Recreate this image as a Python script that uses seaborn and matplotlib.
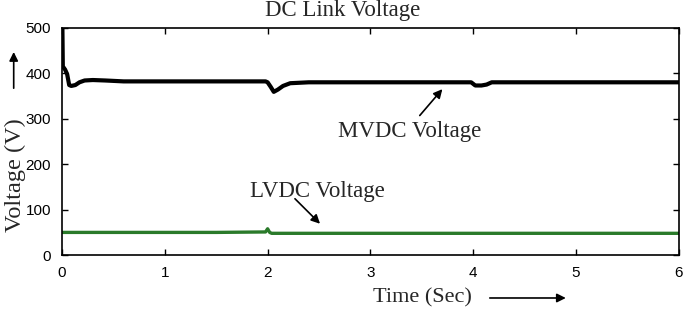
import matplotlib
matplotlib.use("Agg")
import matplotlib.pyplot as plt
import seaborn as sns
import pandas as pd

# ---- data ----
mv_time = [0.0, 0.004, 0.008, 0.03, 0.05, 0.07, 0.09, 0.13, 0.17, 0.22, 0.3, 0.42, 0.6,
           1.0, 1.5, 1.98, 2.0, 2.03, 2.06, 2.1, 2.15, 2.22, 2.4, 3.0, 3.5, 3.98,
           4.02, 4.08, 4.13, 4.18, 5.0, 6.0]
mv_volt = [500, 500, 415, 408, 398, 374, 372, 374, 380, 384, 385, 384, 382,
           382, 382, 382, 380, 370, 359, 364, 372, 378, 380, 380, 380, 380,
           373, 373, 375, 380, 380, 380]

lv_time = [0.0, 0.5, 1.0, 1.5, 1.98, 2.0, 2.02, 2.04, 3.0, 4.0, 5.0, 6.0]
lv_volt = [50, 50, 50, 50, 51, 58, 50, 48, 48, 48, 48, 48]

x_ticks = [0, 1, 2, 3, 4, 5, 6]
y_ticks = [0, 100, 200, 300, 400, 500]

mv = pd.DataFrame({"t": mv_time, "v": mv_volt})
lv = pd.DataFrame({"t": lv_time, "v": lv_volt})

sns.set_theme(style="ticks")
plt.rcParams["font.family"] = ["Liberation Sans", "DejaVu Sans"]

fig = plt.figure(figsize=(6.85, 3.15), dpi=100)
ax = fig.add_axes([0.0905, 0.19, 0.9005, 0.722])

sns.lineplot(data=mv, x="t", y="v", ax=ax, color="black", linewidth=3.0)
sns.lineplot(data=lv, x="t", y="v", ax=ax, color="#2a7a2a", linewidth=2.4)

ax.set_xlim(0, 6)
ax.set_ylim(0, 500)
ax.set_xticks(x_ticks)
ax.set_yticks(y_ticks)
ax.tick_params(direction="in", top=True, right=True, length=4, width=1,
               labelsize=11, colors="black", pad=8)
for s in ax.spines.values():
    s.set_color("black")
    s.set_linewidth(1.2)

serif = ["Liberation Serif", "DejaVu Serif"]
ax.set_xlabel("")
ax.set_ylabel("")
fig.text(0.5, 0.968, "DC Link Voltage", ha="center", va="center",
         family=serif, fontsize=16.5)
fig.text(0.022, 0.444, "Voltage (V)", rotation=90, ha="center", va="center",
         family=serif, fontsize=17.5)
fig.text(0.616, 0.054, "Time (Sec)", ha="center", va="center",
         family=serif, fontsize=16)

arrow_kw = dict(arrowstyle="-|>", color="black", lw=1.2, shrinkA=0, shrinkB=0,
                mutation_scale=13)
fig.add_artist(matplotlib.patches.FancyArrowPatch(
    (0.02, 0.72), (0.02, 0.835), transform=fig.transFigure, **arrow_kw))
fig.add_artist(matplotlib.patches.FancyArrowPatch(
    (0.715, 0.054), (0.826, 0.054), transform=fig.transFigure, **arrow_kw))

ax.annotate("", xy=(3.70, 365), xytext=(3.48, 307), arrowprops=arrow_kw)
ax.text(3.38, 272, "MVDC Voltage", ha="center", va="center",
        family=serif, fontsize=16.5)
ax.annotate("", xy=(2.51, 69), xytext=(2.266, 124), arrowprops=arrow_kw)
ax.text(2.485, 140, "LVDC Voltage", ha="center", va="center",
        family=serif, fontsize=16.5)

fig.savefig("out.png", dpi=100)
